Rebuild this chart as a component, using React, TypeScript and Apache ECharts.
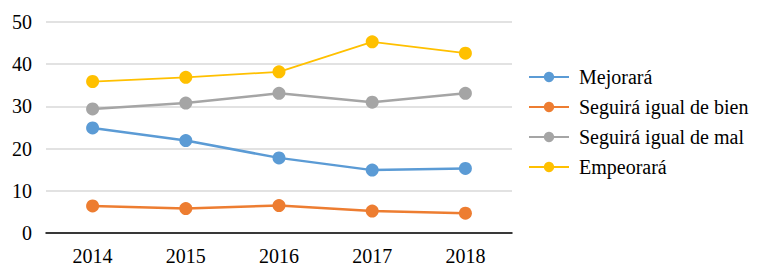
import React, { useEffect, useRef } from "react";
import * as echarts from "echarts";

const categories = ["2014", "2015", "2016", "2017", "2018"];
const seriesNames = ["Mejorará", "Seguirá igual de bien", "Seguirá igual de mal", "Empeorará"];
const mejorara = [24.9, 21.9, 17.8, 14.9, 15.3];
const igualBien = [6.4, 5.8, 6.5, 5.2, 4.7];
const igualMal = [29.4, 30.8, 33.1, 31.0, 33.1];
const empeorara = [35.9, 36.9, 38.2, 45.3, 42.6];
const colors = ["#5B9BD5", "#ED7D31", "#A5A5A5", "#FFC000"];
const lineWidths = [2.5, 2.5, 2.5, 1.75];

export default function App() {
  const ref = useRef<HTMLDivElement>(null);
  useEffect(() => {
    if (!ref.current) return;
    const chart = echarts.init(ref.current, undefined, { renderer: "svg" });
    const data = [mejorara, igualBien, igualMal, empeorara];
    const font = "Times New Roman, Liberation Serif, serif";
    chart.setOption({
      animation: false,
      textStyle: { fontFamily: font },
      grid: { left: 46, right: 252, top: 22, bottom: 47, containLabel: false },
      legend: {
        orient: "vertical",
        left: 528,
        top: 67,
        padding: 0,
        itemWidth: 40,
        itemHeight: 13,
        itemGap: 10,
        data: seriesNames,
        textStyle: { fontFamily: font, fontSize: 20, color: "#000", padding: [0, 0, 0, 5] },
      },
      xAxis: {
        type: "category",
        data: categories,
        boundaryGap: true,
        axisLine: { lineStyle: { color: "#000", width: 1.5 } },
        axisTick: { show: false },
        axisLabel: { color: "#000", fontSize: 20, fontFamily: font, margin: 13 },
      },
      yAxis: {
        type: "value",
        min: 0,
        max: 50,
        interval: 10,
        axisLine: { show: false },
        axisTick: { show: false },
        splitLine: { lineStyle: { color: "#D9D9D9", width: 1.5 } },
        axisLabel: { color: "#000", fontSize: 20, fontFamily: font, margin: 14 },
      },
      series: seriesNames.map((name, i) => ({
        name,
        type: "line",
        data: data[i],
        symbol: "circle",
        symbolSize: 13,
        color: colors[i],
        lineStyle: { color: colors[i], width: lineWidths[i] },
        itemStyle: { color: colors[i] },
      })),
    });
    return () => chart.dispose();
  }, []);
  return <div ref={ref} style={{ width: 764, height: 280, position: "absolute", left: 0, top: 0 }} />;
}
